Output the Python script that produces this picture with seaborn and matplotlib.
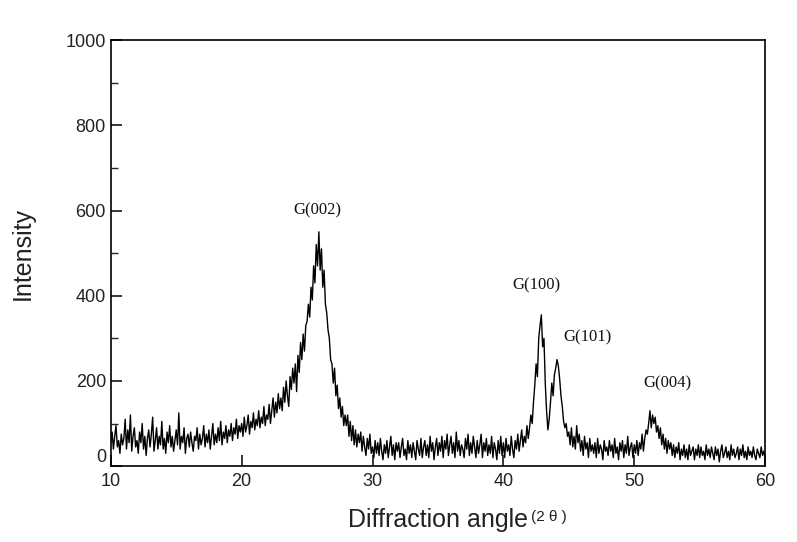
import numpy as np
import pandas as pd
import matplotlib
matplotlib.use("Agg")
import matplotlib.pyplot as plt
import seaborn as sns

# XRD pattern, one row per degree (step 0.1 deg)
angle_start = 10.0
angle_step = 0.1
intensity = [
    55, 80, 40, 70, 95, 45, 60, 30, 75, 50,        # 10
    65, 110, 40, 85, 55, 120, 35, 70, 90, 45,      # 11
    60, 30, 80, 55, 100, 40, 70, 25, 65, 85,       # 12
    45, 75, 115, 35, 60, 90, 40, 70, 50, 105,      # 13
    40, 65, 30, 80, 55, 95, 45, 70, 35, 60,        # 14
    85, 50, 125, 40, 70, 55, 90, 30, 65, 75,       # 15
    45, 80, 55, 35, 70, 60, 90, 40, 75, 50,        # 16
    65, 95, 45, 75, 55, 85, 40, 70, 100, 50,       # 17
    75, 55, 90, 60, 105, 50, 80, 65, 95, 55,       # 18
    85, 70, 100, 60, 90, 75, 110, 65, 95, 80,      # 19
    100, 70, 115, 80, 95, 120, 75, 105, 90, 125,   # 20
    85, 110, 95, 130, 90, 115, 100, 140, 95, 120,  # 21
    110, 145, 100, 130, 160, 115, 150, 125, 170, 135,  # 22
    160, 130, 185, 150, 200, 165, 140, 210, 180, 230,  # 23
    195, 240, 175, 260, 220, 290, 250, 310, 270, 330,  # 24
    340, 380, 350, 420, 390, 470, 430, 520, 470, 550,  # 25
    460, 510, 420, 460, 380, 360, 320, 300, 250, 240,  # 26
    195, 230, 165, 190, 135, 160, 115, 140, 95, 120,   # 27
    95, 120, 70, 105, 60, 95, 50, 85, 45, 75,      # 28
    55, 80, 35, 70, 45, 25, 65, 40, 75, 30,        # 29
    45, 20, 60, 30, 55, 25, 65, 35, 15, 50,        # 30
    30, 60, 20, 45, 70, 25, 50, 15, 55, 35,        # 31
    55, 20, 45, 65, 25, 40, 15, 60, 30, 50,        # 32
    20, 55, 35, 15, 60, 40, 25, 65, 20, 45,        # 33
    60, 25, 50, 20, 70, 35, 55, 15, 45, 65,        # 34
    25, 55, 35, 70, 20, 60, 40, 75, 25, 50,        # 35
    70, 30, 55, 20, 80, 35, 60, 25, 50, 40,        # 36
    20, 65, 40, 75, 25, 55, 30, 70, 45, 20,        # 37
    60, 30, 50, 75, 20, 55, 35, 65, 25, 50,        # 38
    30, 70, 20, 55, 40, 15, 60, 30, 70, 25,        # 39
    55, 20, 65, 35, 50, 25, 70, 40, 20, 60,        # 40
    40, 75, 35, 60, 85, 45, 70, 55, 95, 65,        # 41
    90, 120, 100, 150, 190, 240, 210, 300, 330, 355,   # 42
    280, 300, 195, 130, 85, 110, 150, 195, 165, 215,   # 43
    230, 250, 235, 205, 165, 140, 105, 90, 100, 70,    # 44
    80, 50, 90, 45, 70, 40, 95, 55, 75, 35,        # 45
    60, 25, 70, 40, 55, 20, 65, 35, 50, 30,        # 46
    55, 20, 65, 30, 50, 40, 15, 60, 35, 45,        # 47
    25, 60, 35, 50, 20, 65, 30, 45, 15, 55,        # 48
    35, 60, 20, 50, 30, 70, 25, 45, 55, 20,        # 49
    50, 30, 60, 25, 55, 40, 75, 35, 65, 85,        # 50
    75, 100, 130, 90, 120, 100, 115, 80, 95, 65,   # 51
    90, 50, 75, 40, 65, 30, 60, 40, 55, 25,        # 52
    50, 20, 45, 30, 55, 15, 40, 25, 50, 20,        # 53
    40, 15, 50, 25, 35, 45, 15, 40, 25, 50,        # 54
    20, 45, 25, 35, 15, 50, 25, 40, 20, 45,        # 55
    30, 15, 45, 25, 40, 10, 35, 50, 20, 30,        # 56
    45, 20, 35, 15, 50, 25, 40, 20, 30, 45,        # 57
    15, 40, 25, 50, 20, 35, 15, 45, 25, 35,        # 58
    20, 45, 25, 15, 40, 30, 20, 45, 25, 35,        # 59
    20,                                            # 60
]

peak_labels = ["G(002)", "G(100)", "G(101)", "G(004)"]
peak_label_x = [25.75, 42.5, 46.4, 52.5]
peak_label_y = [601, 425, 303, 195]

angle = angle_start + angle_step * np.arange(len(intensity))
df = pd.DataFrame({"angle": angle, "intensity": intensity})

sns.set_style("ticks")
plt.rcParams["font.family"] = ["Liberation Sans", "DejaVu Sans"]

fig = plt.figure(figsize=(7.97, 5.42), dpi=100)
ax = fig.add_axes([0.139, 0.140, 0.821, 0.786])

sns.lineplot(data=df, x="angle", y="intensity", ax=ax,
             color="black", linewidth=1.0, estimator=None)

ax.set_xlim(10, 60)
ax.set_ylim(0, 1000)
ax.set_xticks(range(10, 61, 10))
ax.set_yticks(range(0, 1001, 200))
ax.set_yticks(range(100, 1000, 200), minor=True)
ax.tick_params(axis="both", which="major", direction="in", length=8,
               width=1.1, labelsize=13, color="black", labelcolor="#222222")
ax.tick_params(axis="y", which="minor", direction="in", length=5, width=1.0)
ax.tick_params(axis="x", pad=5)
for s in ax.spines.values():
    s.set_linewidth(1.2)
    s.set_color("black")

# lift the "0" label a little so it clears the "10" below it
ax.get_yticklabels()[0].set_va("bottom")

ax.set_xlabel("")
ax.set_ylabel("Intensity", fontsize=18, color="#222222", labelpad=22)

fig.text(528 / 797, 1 - 520 / 542, "Diffraction angle", fontsize=18,
         color="#222222", ha="right", va="center")
fig.text(531 / 797, 1 - 517 / 542, "(2 \u03b8 )", fontsize=11,
         color="#222222", ha="left", va="center")

for lab, lx, ly in zip(peak_labels, peak_label_x, peak_label_y):
    ax.text(lx, ly, lab, fontsize=12, family="Liberation Serif",
            ha="center", va="center", color="#111111")

fig.savefig("out.png", dpi=100, facecolor="white")
